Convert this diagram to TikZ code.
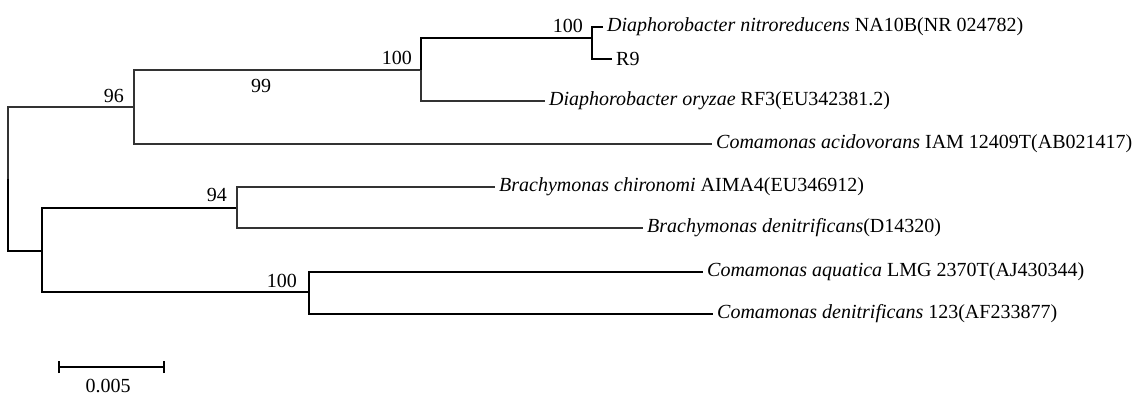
\documentclass[tikz,border=0pt]{standalone}
\usepackage{fontspec}
\setmainfont{Liberation Serif}
\usepackage{tikz}
\usetikzlibrary{positioning}

\begin{document}
\begin{tikzpicture}[x=1pt,y=-1pt]
\tikzstyle{every node}=[font=\fontsize{20}{22}\selectfont]
\tikzstyle{leaf}=[anchor=west,inner xsep=4pt,inner ysep=1pt]
\tikzstyle{boot}=[anchor=south east,inner sep=0pt]
\tikzstyle{branch}=[line width=1.2pt,black!80]
\tikzstyle{thick branch}=[line width=1.8pt,black]
\useasboundingbox (0,0) rectangle (1143,398);
% inner nodes of the tree
\coordinate (root) at (8,179);
\coordinate (nUp) at (134,107);
\coordinate (nDia) at (421,70);
\coordinate (nDnR) at (592,38);
\coordinate (nLow) at (42,251);
\coordinate (nBra) at (237,208);
\coordinate (nCom) at (309,292);
% leaves
\node[leaf] (dnit) at (603,27) {\textit{Diaphorobacter nitroreducens} NA10B(NR 024782)};
\node[leaf] (r9) at (612,59) {R9};
\node[leaf] (dory) at (545,101) {\textit{Diaphorobacter oryzae} RF3(EU342381.2)};
\node[leaf] (cacid) at (712,144) {\textit{Comamonas acidovorans} IAM 12409T(AB021417)};
\node[leaf] (bchir) at (495,187) {\textit{Brachymonas chironomi} AIMA4(EU346912)};
\node[leaf] (bden) at (643,228) {\textit{Brachymonas denitrificans}(D14320)};
\node[leaf] (caqua) at (703,272) {\textit{Comamonas aquatica} LMG 2370T(AJ430344)};
\node[leaf] (cden) at (713,314) {\textit{Comamonas denitrificans} 123(AF233877)};
% branches
\draw[branch] (root) |- (nUp);
\draw[thick branch] (root) |- (nLow);
\draw[branch] (nUp) |- (nDia);
\draw[branch] (nUp) |- (cacid.west);
\draw[thick branch] (nDia) |- (nDnR);
\draw[branch] (nDia) |- (dory.west);
\draw[thick branch] (nDnR) |- (dnit.west);
\draw[thick branch] (nDnR) |- (r9.west);
\draw[thick branch] (nLow) |- (nBra);
\draw[thick branch] (nLow) |- (nCom);
\draw[branch] (nBra) |- (bchir.west);
\draw[branch] (nBra) |- (bden.west);
\draw[thick branch] (nCom) |- (caqua.west);
\draw[thick branch] (nCom) |- (cden.west);
% bootstrap values
\node[boot] (b96) at ([shift={(-10,-4)}]nUp) {96};
\node (b99) at (261,86) {99};
\node[boot] (b100a) at ([shift={(-9,-5)}]nDia) {100};
\node[boot] (b100b) at ([shift={(-9,-5)}]nDnR) {100};
\node[boot] (b94) at ([shift={(-10,-6)}]nBra) {94};
\node[boot] (b100c) at ([shift={(-12,-4)}]nCom) {100};
% scale bar
\coordinate (s0) at (59,367);
\coordinate (s1) at (164,367);
\draw[thick branch] (s0) -- (s1);
\draw[thick branch] ([yshift=-6pt]s0) -- ([yshift=6pt]s0);
\draw[thick branch] ([yshift=-6pt]s1) -- ([yshift=6pt]s1);
\node (scale) at (108,386) {0.005};
\end{tikzpicture}
\end{document}
